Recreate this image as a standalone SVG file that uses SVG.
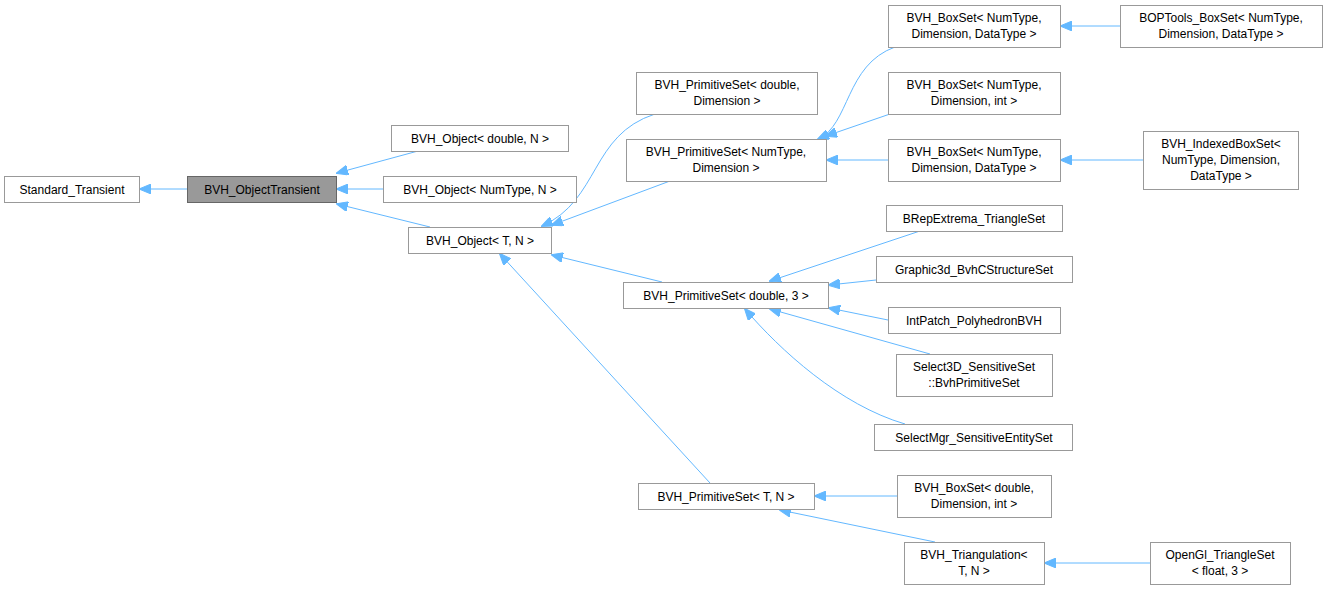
<svg xmlns="http://www.w3.org/2000/svg" width="1328" height="589" viewBox="0 0 1328 589">
<style>
.n rect{fill:#fff;stroke:#999;stroke-width:1}
.n text{font-family:"Liberation Sans",Arial,sans-serif;font-size:12px;fill:#000;text-anchor:middle}
#e path{fill:none;stroke:#63b8ff;stroke-width:1;marker-end:url(#a)}
</style>
<defs><marker id="a" viewBox="0 0 12 10" refX="11" refY="5" markerWidth="12" markerHeight="10" markerUnits="userSpaceOnUse" orient="auto"><path d="M0,0 L12,5 L0,10 Z" fill="#63b8ff" stroke="#63b8ff"/></marker></defs>
<rect width="1328" height="589" fill="#fff"/>
<g id="e">
<path d="M187,189 L140,189"/>
<path d="M418,151 L337,173"/>
<path d="M383,189 L337,189"/>
<path d="M430,227 L337,204"/>
<path d="M655,114 C590,135 600,200 542,226"/>
<path d="M670,181 L552,225"/>
<path d="M662,282 L552,255"/>
<path d="M710,483 L500,254"/>
<path d="M895,47 C845,65 850,125 818,139"/>
<path d="M890,114 L826,136"/>
<path d="M888,160 L827,160"/>
<path d="M1120,26 L1061,26"/>
<path d="M1143,160 L1061,160"/>
<path d="M920,231 L770,281"/>
<path d="M876,280 L829,285"/>
<path d="M888,320 L829,308"/>
<path d="M930,354 L770,309"/>
<path d="M905,424 C840,405 780,350 745,309"/>
<path d="M897,496 L815,496"/>
<path d="M935,542 L780,510"/>
<path d="M1150,563 L1045,563"/>
</g>
<g id="standard_transient" class="n"><rect x="4.5" y="176.5" width="135" height="26"/><text x="72" y="194">Standard_Transient</text></g>
<g id="bvh_objecttransient" class="n"><rect x="187.5" y="176.5" width="149" height="26" style="fill:#999;stroke:#666"/><text x="262" y="194">BVH_ObjectTransient</text></g>
<g id="obj_double" class="n"><rect x="391.5" y="125.5" width="177" height="26"/><text x="480" y="143">BVH_Object&lt; double, N &gt;</text></g>
<g id="obj_numtype" class="n"><rect x="383.5" y="176.5" width="193" height="26"/><text x="480" y="194">BVH_Object&lt; NumType, N &gt;</text></g>
<g id="obj_t" class="n"><rect x="408.5" y="227.5" width="143" height="26"/><text x="480" y="245">BVH_Object&lt; T, N &gt;</text></g>
<g id="ps_double_dim" class="n"><rect x="636.5" y="72.5" width="181" height="42"/><text x="727" y="89">BVH_PrimitiveSet&lt; double,</text><text x="727" y="105">Dimension &gt;</text></g>
<g id="ps_numtype" class="n"><rect x="626.5" y="139.5" width="200" height="42"/><text x="726" y="156">BVH_PrimitiveSet&lt; NumType,</text><text x="726" y="172">Dimension &gt;</text></g>
<g id="ps_double3" class="n"><rect x="623.5" y="282.5" width="205" height="26"/><text x="726" y="300">BVH_PrimitiveSet&lt; double, 3 &gt;</text></g>
<g id="ps_t" class="n"><rect x="638.5" y="483.5" width="176" height="26"/><text x="726" y="501">BVH_PrimitiveSet&lt; T, N &gt;</text></g>
<g id="boxset_dt1" class="n"><rect x="888.5" y="5.5" width="172" height="42"/><text x="974" y="22">BVH_BoxSet&lt; NumType,</text><text x="974" y="38">Dimension, DataType &gt;</text></g>
<g id="boxset_int" class="n"><rect x="888.5" y="72.5" width="172" height="42"/><text x="974" y="89">BVH_BoxSet&lt; NumType,</text><text x="974" y="105">Dimension, int &gt;</text></g>
<g id="boxset_dt2" class="n"><rect x="888.5" y="139.5" width="172" height="42"/><text x="974" y="156">BVH_BoxSet&lt; NumType,</text><text x="974" y="172">Dimension, DataType &gt;</text></g>
<g id="boptools" class="n"><rect x="1120.5" y="5.5" width="202" height="42"/><text x="1221" y="22">BOPTools_BoxSet&lt; NumType,</text><text x="1221" y="38">Dimension, DataType &gt;</text></g>
<g id="indexedboxset" class="n"><rect x="1143.5" y="131.5" width="155" height="58"/><text x="1221" y="148">BVH_IndexedBoxSet&lt;</text><text x="1221" y="164">NumType, Dimension,</text><text x="1221" y="180">DataType &gt;</text></g>
<g id="brepextrema" class="n"><rect x="886.5" y="205.5" width="176" height="26"/><text x="974" y="223">BRepExtrema_TriangleSet</text></g>
<g id="graphic3d" class="n"><rect x="876.5" y="256.5" width="196" height="26"/><text x="974" y="274">Graphic3d_BvhCStructureSet</text></g>
<g id="intpatch" class="n"><rect x="888.5" y="307.5" width="172" height="26"/><text x="974" y="325">IntPatch_PolyhedronBVH</text></g>
<g id="select3d" class="n"><rect x="896.5" y="354.5" width="156" height="42"/><text x="974" y="371">Select3D_SensitiveSet</text><text x="974" y="387">::BvhPrimitiveSet</text></g>
<g id="selectmgr" class="n"><rect x="874.5" y="424.5" width="198" height="26"/><text x="974" y="442">SelectMgr_SensitiveEntitySet</text></g>
<g id="boxset_double" class="n"><rect x="897.5" y="475.5" width="154" height="42"/><text x="974" y="492">BVH_BoxSet&lt; double,</text><text x="974" y="508">Dimension, int &gt;</text></g>
<g id="triangulation" class="n"><rect x="904.5" y="542.5" width="140" height="42"/><text x="974" y="559">BVH_Triangulation&lt;</text><text x="974" y="575">T, N &gt;</text></g>
<g id="opengl" class="n"><rect x="1150.5" y="542.5" width="140" height="42"/><text x="1220" y="559">OpenGl_TriangleSet</text><text x="1220" y="575">&lt; float, 3 &gt;</text></g>
</svg>
